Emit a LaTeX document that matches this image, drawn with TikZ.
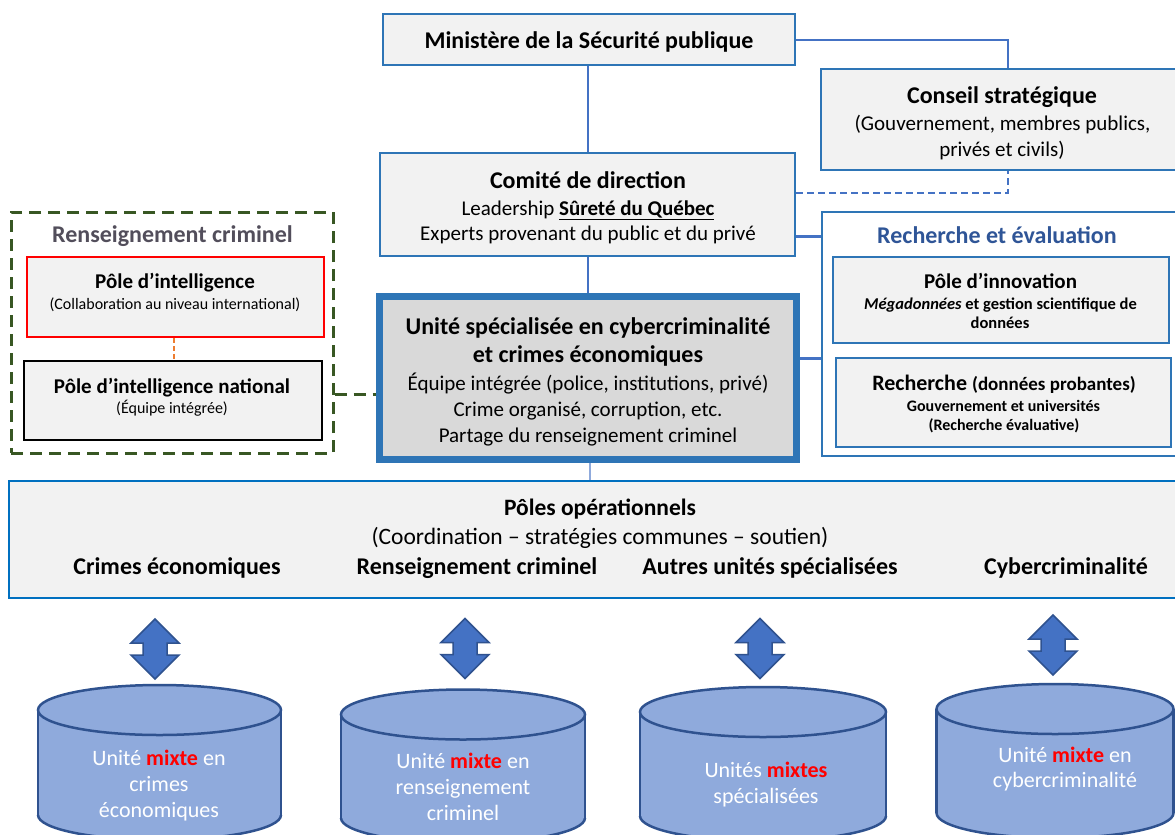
\documentclass[tikz,border=0pt]{standalone}
\usepackage{fontspec}
\setmainfont{Carlito}
\definecolor{bblue}{HTML}{2E75B6}
\definecolor{lblue}{HTML}{4472C4}
\definecolor{pblue}{HTML}{0070C0}
\definecolor{lgray}{HTML}{F2F2F2}
\definecolor{mgray}{HTML}{D9D9D9}
\definecolor{dgreen}{HTML}{385723}
\definecolor{rtitle}{HTML}{2F5597}
\definecolor{gtitle}{HTML}{524E5B}
\definecolor{cylfill}{HTML}{8FAADC}
\definecolor{cyldraw}{HTML}{2F528F}
\definecolor{orng}{HTML}{ED7D31}
\definecolor{thinblue}{HTML}{8FAADC}
\newcommand\fs[1]{\fontsize{#1}{#1}\selectfont}
\newcommand\darr[2]{%
  \filldraw[arr] ({#1},{#2-30}) -- ({#1+24},{#2-6}) -- ({#1+12},{#2-6}) -- ({#1+12},{#2+6}) -- ({#1+24},{#2+6}) -- ({#1},{#2+30}) -- ({#1-24},{#2+6}) -- ({#1-12},{#2+6}) -- ({#1-12},{#2-6}) -- ({#1-24},{#2-6}) -- cycle;}
% cx, rx, yt, yb, ry
\newcommand\mycyl[5]{%
  \fill[cylfill] ({#1-#2},#3) rectangle ({#1+#2},#4);
  \fill[cylfill] (#1,#4) ellipse [x radius=#2, y radius=#5];
  \begin{scope}
    \clip ({#1-#2-5},#4) rectangle ({#1+#2+5},{#4+#5+5});
    \draw[cylline] (#1,#4) ellipse [x radius=#2, y radius=#5];
  \end{scope}
  \draw[cylline] ({#1-#2},#3) -- ({#1-#2},#4);
  \draw[cylline] ({#1+#2},#3) -- ({#1+#2},#4);
  \filldraw[fill=cylfill,cylline] (#1,#3) ellipse [x radius=#2, y radius=#5];}
\begin{document}
\begin{tikzpicture}[x=1pt,y=-1pt,
  box/.style={draw=bblue,line width=2.5pt,fill=lgray,inner sep=0pt},
  conn/.style={draw=lblue,line width=2pt},
  t/.style={inner sep=0pt,anchor=base},
  arr/.style={fill=lblue,draw=cyldraw,line width=1.5pt,line join=miter},
  cylline/.style={draw=cyldraw,line width=2.5pt},
  ct/.style={t,text=white,font=\fs{22}}]
\useasboundingbox (0,0) rectangle (1175,835);
\fill[white] (0,0) rectangle (1175,835);

% ---- boxes ----
\node[box,minimum width=412pt,minimum height=51pt] (min) at (589,39.5) {};
\node[box,minimum width=357pt,minimum height=101pt] (cons) at (999.5,119.5) {};
\node[box,minimum width=415pt,minimum height=103pt] (com) at (587.5,204.5) {};
\node[box,fill=white,minimum width=358pt,minimum height=244pt] (rech) at (1001,334) {};
\node[box,minimum width=336pt,minimum height=86pt] (pinn) at (1001,300) {};
\node[box,minimum width=335pt,minimum height=89pt] (prech) at (1003.5,402.5) {};
\node[draw=dgreen,line width=3pt,dash pattern=on 12pt off 7pt,inner sep=0pt,minimum width=322pt,minimum height=241pt] (rc) at (172,332.5) {};
\node[draw=red,line width=2pt,fill=lgray,inner sep=0pt,minimum width=297pt,minimum height=80pt] (pint) at (175.5,297) {};
\node[draw=black,line width=2.5pt,fill=lgray,inner sep=0pt,minimum width=298pt,minimum height=79pt] (pnat) at (173,400.5) {};
\node[draw=bblue,line width=7pt,fill=mgray,inner sep=0pt,minimum width=417pt,minimum height=163pt] (uni) at (588,378) {};
\node[draw=pblue,line width=2.5pt,fill=lgray,inner sep=0pt,minimum width=1171pt,minimum height=117pt] (pop) at (594.5,539.5) {};

% ---- connectors ----
\draw[conn] (min.south -| 588,0) -- (com.north -| 588,0);
\draw[conn] (min.east) -| (cons.north -| 1008,0);
\draw[conn,dash pattern=on 7pt off 4pt] (com.east |- 0,193) -| (cons.south -| 1008,0);
\draw[conn,line width=3pt] (com.east |- 0,236) -- (rech.west |- 0,236);
\draw[conn,line width=3pt] (uni.east |- 0,358) -- (rech.west |- 0,358);
\draw[conn] (com.south -| 588,0) -- (uni.north -| 588,0);
\draw[draw=thinblue,line width=1.2pt] (uni.south -| 590,0) -- (pop.north -| 590,0);
\draw[draw=orng,line width=2pt,dash pattern=on 5pt off 3pt] (pint.south -| 174,0) -- (pnat.north -| 174,0);
\draw[draw=dgreen,line width=3pt,dash pattern=on 12pt off 7pt] (rc.east |- 0,394) -- (uni.west |- 0,394);

% ---- texts ----
\node[t,font=\fs{24}\bfseries] (tmin) at (589,48) {Ministère de la Sécurité publique};

\node[t,font=\fs{24}\bfseries] (tcons1) at (1002,103) {Conseil stratégique};
\node[t,font=\fs{21}] (tcons2) at (1002.5,130) {(Gouvernement, membres publics,};
\node[t,font=\fs{21}] (tcons3) at (1002,156) {privés et civils)};

\node[t,font=\fs{24}\bfseries] (tcom1) at (588,188) {Comité de direction};
\node[t,font=\fs{21}] (tcom2) at (588,215) {Leadership \textbf{\underline{Sûreté du Québec}}};
\node[t,font=\fs{21}] (tcom3) at (588,240) {Experts provenant du public et du privé};

\node[t,font=\fs{24}\bfseries,text=rtitle] (trech) at (997,243) {Recherche et évaluation};
\node[t,font=\fs{21}\bfseries] (tinn1) at (1000.5,288) {Pôle d’innovation};
\node[t,font=\fs{16.5}\bfseries] (tinn2) at (1000.5,309) {\textit{Mégadonnées} et gestion scientifique de};
\node[t,font=\fs{16.5}\bfseries] (tinn3) at (1000,328) {données};
\node[t,font=\fs{22}\bfseries] (trp1) at (1004,390) {Recherche {\fs{19}(données probantes)}};
\node[t,font=\fs{16}\bfseries] (trp2) at (1003.5,411) {Gouvernement et universités};
\node[t,font=\fs{16}\bfseries] (trp3) at (1004,430) {(Recherche évaluative)};

\node[t,font=\fs{24}\bfseries,text=gtitle] (trc) at (172.5,242) {Renseignement criminel};
\node[t,font=\fs{21}\bfseries] (tpi1) at (175,288) {Pôle d’intelligence};
\node[t,font=\fs{16}] (tpi2) at (175,309) {(Collaboration au niveau international)};
\node[t,font=\fs{21}\bfseries] (tpn1) at (172,393) {Pôle d’intelligence national};
\node[t,font=\fs{16}] (tpn2) at (172,413) {(Équipe intégrée)};

\node[t,font=\fs{24}\bfseries] (tuni1) at (588,334) {Unité spécialisée en cybercriminalité};
\node[t,font=\fs{24}\bfseries] (tuni2) at (588,362) {et crimes économiques};
\node[t,font=\fs{21}] (tuni3) at (588,390) {Équipe intégrée (police, institutions, privé)};
\node[t,font=\fs{21}] (tuni4) at (588,416) {Crime organisé, corruption, etc.};
\node[t,font=\fs{21}] (tuni5) at (588,442) {Partage du renseignement criminel};

\node[t,font=\fs{23.5}\bfseries] (tpop1) at (600,515) {Pôles opérationnels};
\node[t,font=\fs{23.5}] (tpop2) at (600,544) {(Coordination – stratégies communes – soutien)};
\node[t,font=\fs{24}\bfseries] (tpl1) at (177,574) {Crimes économiques};
\node[t,font=\fs{24}\bfseries] (tpl2) at (477,574) {Renseignement criminel};
\node[t,font=\fs{24}\bfseries] (tpl3) at (770,574) {Autres unités spécialisées};
\node[t,font=\fs{24}\bfseries] (tpl4) at (1066,574) {Cybercriminalité};

% ---- double arrows ----
\darr{155}{649}
\darr{465}{648.5}
\darr{760}{648.5}
\darr{1053}{645}

% ---- cylinders ----
\mycyl{159.5}{121.5}{710}{815}{25}
\mycyl{463}{122}{714.5}{818}{25}
\mycyl{763}{123}{712}{816}{25}
\mycyl{1055}{118.5}{709}{813}{25}

\node[ct] (c1a) at (159,765) {Unité {\color{red}\bfseries mixte} en};
\node[ct] (c1b) at (159,791) {crimes};
\node[ct] (c1c) at (159,817) {économiques};
\node[ct] (c2a) at (463,768) {Unité {\color{red}\bfseries mixte} en};
\node[ct] (c2b) at (463,794) {renseignement};
\node[ct] (c2c) at (463,820) {criminel};
\node[ct] (c3a) at (766,777) {Unités {\color{red}\bfseries mixtes}};
\node[ct] (c3b) at (766,803) {spécialisées};
\node[ct] (c4a) at (1065,762) {Unité {\color{red}\bfseries mixte} en};
\node[ct] (c4b) at (1065,787) {cybercriminalité};
\end{tikzpicture}
\end{document}
